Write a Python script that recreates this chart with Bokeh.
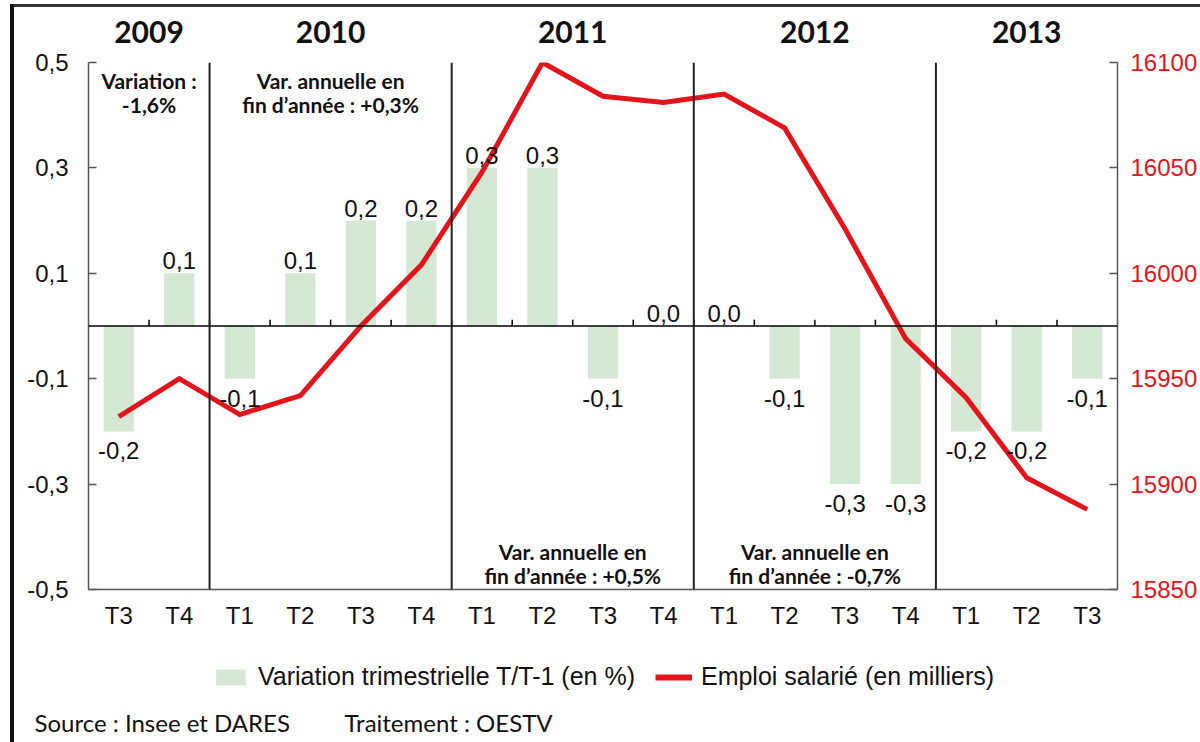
from bokeh.plotting import figure
from bokeh.layouts import column
from bokeh.models import (Range1d, LinearAxis, FixedTicker, CustomJSTickFormatter, Label,
                          Legend, LegendItem, ColumnDataSource, Span, Title)
from bokeh.core.properties import value
from bokeh.embed import file_html
from bokeh.resources import INLINE

# ---------------- data ----------------
quarters = ["T3", "T4",
            "T1", "T2", "T3", "T4",
            "T1", "T2", "T3", "T4",
            "T1", "T2", "T3", "T4",
            "T1", "T2", "T3"]
variation = [-0.2, 0.1,
             -0.1, 0.1, 0.2, 0.2,
             0.3, 0.3, -0.1, 0.0,
             0.0, -0.1, -0.3, -0.3,
             -0.2, -0.2, -0.1]
emploi = [15932, 15950,
          15933, 15942, 15975, 16004,
          16048, 16100, 16084, 16081,
          16085, 16069, 16021, 15969,
          15941, 15903, 15888]
years = ["2009", "2010", "2011", "2012", "2013"]
year_quarters = [2, 4, 4, 4, 3]
top_notes = {"2009": ["Variation :", "-1,6%"],
             "2010": ["Var. annuelle en", "fin d\u2019ann\u00e9e : +0,3%"]}
bottom_notes = {"2011": ["Var. annuelle en", "fin d\u2019ann\u00e9e : +0,5%"],
                "2012": ["Var. annuelle en", "fin d\u2019ann\u00e9e : -0,7%"]}
left_ticks = [-0.5, -0.3, -0.1, 0.1, 0.3, 0.5]
right_ticks = [15850, 15900, 15950, 16000, 16050, 16100]
legend_bar = "Variation trimestrielle T/T-1 (en %)"
legend_line = "Emploi salari\u00e9 (en milliers)"
source_text = "Source : Insee et DARES"
treatment_text = "Traitement : OESTV"

# ---------------- styles ----------------
NUM_FONT = "Liberation Sans"
TXT_FONT = "Lato"
BAR_COLOR = "#d5e8d4"
RED = "#e3141b"
AXIS_COLOR = "#555555"
INK = "#111111"

n = len(quarters)
xs = [i + 0.5 for i in range(n)]

# year spans
year_starts, year_ends = [], []
cum = 0
for nq in year_quarters:
    year_starts.append(cum)
    cum += nq
    year_ends.append(cum)
year_centers = [(a + b) / 2 for a, b in zip(year_starts, year_ends)]

# ================= main chart =================
p = figure(width=1200, height=640,
           x_range=Range1d(0, n), y_range=Range1d(-0.5, 0.5),
           output_backend="svg", toolbar_location=None,
           x_axis_type=None, y_axis_type=None,
           min_border_left=88, min_border_right=80,
           min_border_top=62, min_border_bottom=51)
p.extra_y_ranges = {"emp": Range1d(right_ticks[0], right_ticks[-1])}
p.outline_line_color = None
p.background_fill_color = "white"
p.border_fill_color = None
p.styles = {"background": "linear-gradient(#111,#111) 10px 4px / 4px 100% no-repeat, "
                          "linear-gradient(#333,#333) 10px 4px / 100% 3px no-repeat, white"}

# axes
yl = LinearAxis(ticker=FixedTicker(ticks=left_ticks),
                formatter=CustomJSTickFormatter(code="return tick.toFixed(1).replace('.', ',');"))
yr = LinearAxis(y_range_name="emp", ticker=FixedTicker(ticks=right_ticks))
xb = LinearAxis(ticker=FixedTicker(ticks=xs),
                formatter=CustomJSTickFormatter(args=dict(labels=quarters),
                                                code="return labels[index];"))
xt = LinearAxis(ticker=FixedTicker(ticks=year_centers),
                formatter=CustomJSTickFormatter(args=dict(labels=years),
                                                code="return labels[index];"))
for ax in (yl, yr, xb, xt):
    ax.axis_line_color = AXIS_COLOR
    ax.axis_line_width = 1.5
    ax.major_tick_line_color = AXIS_COLOR
    ax.major_tick_line_width = 1.5
    ax.minor_tick_line_color = None
    ax.major_tick_in = 8
    ax.major_tick_out = 0
    ax.major_label_text_font = NUM_FONT
    ax.major_label_text_font_size = "24px"
    ax.major_label_text_color = INK
yl.major_label_standoff = 20
yr.major_label_standoff = 13
yr.major_label_text_color = RED
xb.major_tick_in = 0
xb.major_tick_line_color = None
xb.major_label_standoff = 12
xt.axis_line_color = None
xt.major_tick_line_color = None
xt.major_tick_in = 0
xt.major_label_standoff = 20
xt.major_label_text_font = TXT_FONT
xt.major_label_text_font_style = "bold"
xt.major_label_text_font_size = "30px"
p.add_layout(yl, "left")
p.add_layout(yr, "right")
p.add_layout(xb, "below")
p.add_layout(xt, "above")

# bars
bars = p.vbar(x=xs, top=variation, bottom=0, width=0.5,
              fill_color=BAR_COLOR, line_color=None)

# zero line
p.add_layout(Span(location=0, dimension="width", line_color="black", line_width=1.5))

# small ticks on zero line at quarter boundaries
bounds = list(range(1, n))
p.segment(x0=bounds, y0=[0] * len(bounds), x1=bounds, y1=[0.012] * len(bounds),
          line_color="black", line_width=1.5)

# year dividers
for e in year_ends[:-1]:
    p.add_layout(Span(location=e, dimension="height", line_color="#222222", line_width=2))

# notes
for yname, center in zip(years, year_centers):
    if yname in top_notes:
        for k, line_txt in enumerate(top_notes[yname]):
            p.add_layout(Label(x=center, y=0.466 - k * 0.046, text=line_txt,
                               text_align="center", text_baseline="middle",
                               text_font=TXT_FONT, text_font_style="bold",
                               text_font_size="21px", text_color=INK))
    if yname in bottom_notes:
        for k, line_txt in enumerate(bottom_notes[yname]):
            p.add_layout(Label(x=center, y=-0.428 - k * 0.046, text=line_txt,
                               text_align="center", text_baseline="middle",
                               text_font=TXT_FONT, text_font_style="bold",
                               text_font_size="21px", text_color=INK))

# line
line = p.line(x=xs, y=emploi, y_range_name="emp", line_color=RED, line_width=5,
              line_join="miter")

# bar value labels
lab_txt = [("%.1f" % v).replace(".", ",") for v in variation]
pos = [v >= 0 for v in variation]
src_pos = ColumnDataSource(dict(x=[x for x, q in zip(xs, pos) if q],
                                y=[v for v, q in zip(variation, pos) if q],
                                t=[t for t, q in zip(lab_txt, pos) if q]))
src_neg = ColumnDataSource(dict(x=[x for x, q in zip(xs, pos) if not q],
                                y=[v for v, q in zip(variation, pos) if not q],
                                t=[t for t, q in zip(lab_txt, pos) if not q]))
p.text(x="x", y="y", text="t", source=src_pos, text_align="center", text_baseline="bottom",
       y_offset=-4, text_font=value(NUM_FONT), text_font_size="24px", text_color=INK)
p.text(x="x", y="y", text="t", source=src_neg, text_align="center", text_baseline="top",
       y_offset=11, text_font=value(NUM_FONT), text_font_size="24px", text_color=INK)

# ================= legend + footer strip =================
# (frame of this strip is aligned with the chart frame: 88..1120 px)
LH = 102
FRAME_H = 62
q = figure(width=1200, height=LH, x_range=Range1d(88, 1120), y_range=Range1d(FRAME_H, 0),
           output_backend="svg", toolbar_location=None,
           x_axis_type=None, y_axis_type=None,
           min_border_left=0, min_border_right=0, min_border_top=0,
           min_border_bottom=LH - FRAME_H)
q.outline_line_color = None
q.background_fill_color = None
q.border_fill_color = None
q.grid.visible = False
q.styles = {"background": "linear-gradient(#111,#111) 10px 0px / 4px 100% no-repeat, white"}

# legend proxies (drawn off-screen, used only for the legend swatches)
leg_bar = q.vbar(x=[-5000], top=[1], width=1, fill_color=BAR_COLOR, line_color=None)
leg_line = q.line(x=[-5000, -4999], y=[0, 0], line_color=RED, line_width=6)
legend = Legend(items=[LegendItem(label=legend_bar, renderers=[leg_bar]),
                       LegendItem(label=legend_line, renderers=[leg_line])],
                orientation="horizontal", location=(124, 11),
                glyph_width=37, glyph_height=20, label_standoff=9, spacing=20,
                padding=0, margin=0, border_line_color=None, background_fill_alpha=0,
                label_text_font=NUM_FONT, label_text_font_size="25px",
                label_text_color=INK)
q.add_layout(legend, "center")

footer = source_text + "\u00a0" * 9 + treatment_text
q.add_layout(Title(text=footer, align="left", offset=-54, standoff=6,
                   text_font=TXT_FONT, text_font_size="24px", text_font_style="normal",
                   text_color=INK), "below")

layout = column(p, q, spacing=0)
open("out.html", "w").write(file_html(layout, INLINE))
